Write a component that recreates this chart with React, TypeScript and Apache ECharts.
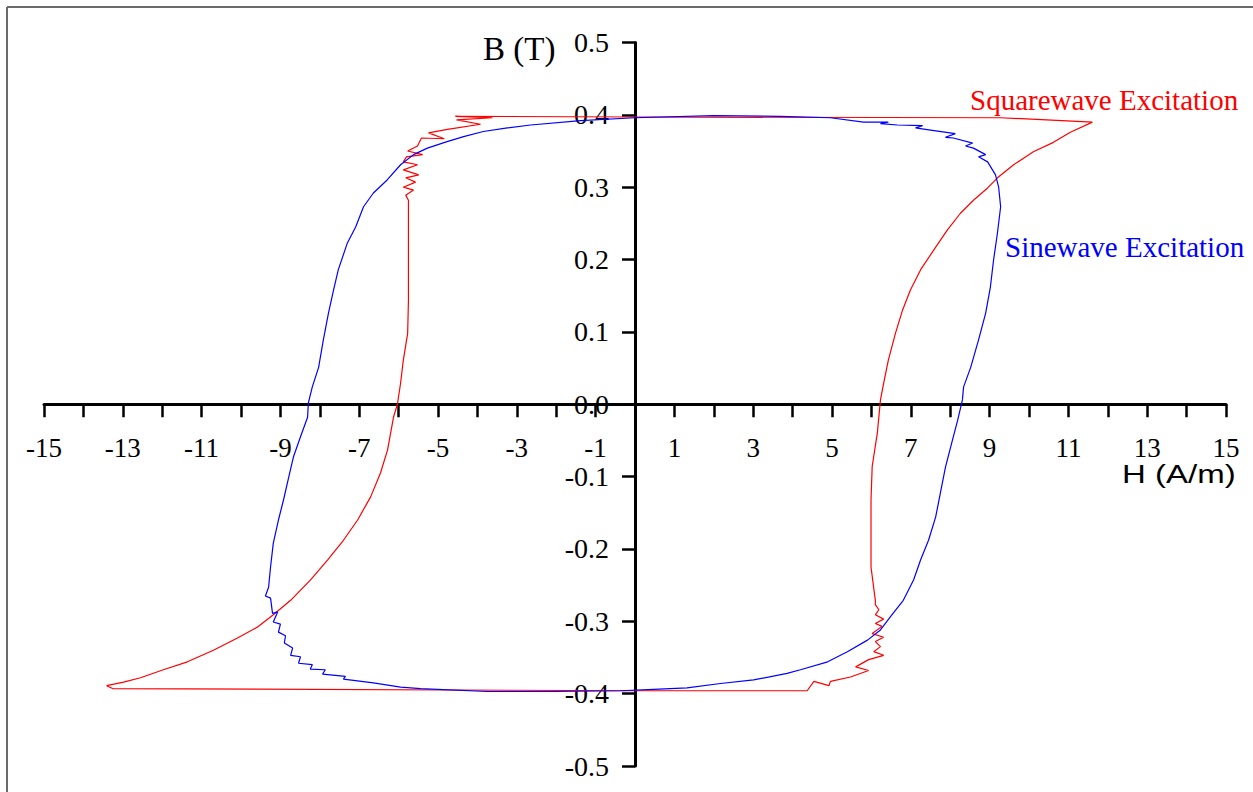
import React, { useEffect, useRef } from "react";
import * as echarts from "echarts";

// Squarewave excitation loop (H in A/m, B in T), traced in drawing order
const squareH = [
  11.61, 9.28, 0, -4.56, -3.62, -4.53, -3.92, -4.76, -5.24, -4.84, -5.42, -5.52, -5.77, -5.39, -5.8, -5.88,
  -5.52, -5.88, -5.49, -5.82, -5.57, -5.88, -5.62, -5.82, -5.75, -5.75, -5.75, -5.75, -5.77, -5.88, -5.95,
  -6.03, -6.13, -6.28, -6.46, -6.71, -7.04, -7.4, -7.8, -8.24, -8.74, -9.18, -9.58, -10.09, -10.7, -11.36,
  -11.97, -12.55, -12.98, -13.41, -13.26, 0, 4.37, 4.54, 4.92, 4.96, 5.47, 5.93, 5.6, 5.93, 6.31, 6.06, 6.23,
  6.1, 6.31, 6.02, 6.27, 6.1, 6.31, 6.1, 6.19, 6.1, 6.1, 5.99, 5.99, 5.99, 6.02, 6.15, 6.23, 6.31, 6.43, 6.61,
  6.79, 6.99, 7.25, 7.58, 7.93, 8.26, 8.59, 8.95, 9.2, 9.61, 10.11, 10.62, 11.05, 11.61,
];
const squareB = [
  0.39, 0.396, 0.397, 0.398, 0.396, 0.393, 0.387, 0.38, 0.375, 0.367, 0.368, 0.357, 0.35, 0.345, 0.342, 0.335,
  0.331, 0.324, 0.317, 0.313, 0.307, 0.3, 0.296, 0.289, 0.282, 0.237, 0.19, 0.144, 0.098, 0.061, 0.029,
  0.0, -0.018, -0.063, -0.095, -0.128, -0.16, -0.188, -0.215, -0.243, -0.271, -0.291, -0.308, -0.323, -0.34,
  -0.356, -0.367, -0.378, -0.384, -0.389, -0.393, -0.396, -0.396, -0.383, -0.389, -0.383, -0.377, -0.368,
  -0.363, -0.353, -0.347, -0.342, -0.335, -0.328, -0.322, -0.317, -0.307, -0.303, -0.297, -0.291, -0.284,
  -0.277, -0.271, -0.225, -0.178, -0.132, -0.086, -0.04, 0.006, 0.029, 0.061, 0.098, 0.13, 0.158, 0.186,
  0.213, 0.241, 0.264, 0.282, 0.299, 0.313, 0.331, 0.349, 0.362, 0.376, 0.39,
];

// Sinewave excitation loop
const sineH = [
  8.31, 8.34, 8.52, 8.72, 8.9, 9.02, 9.1, 9.2, 9.28, 9.23, 9.15,
  8.95, 8.72, 8.9, 8.59, 8.39, 8.57, 8.08, 7.88, 8.13, 7.5, 7.12, 7.3, 6.66, 6.23, 6.43, 5.8,
  4.96, 3.69, 1.99, 0, -1.38, -2.65, -3.24, -3.85, -4.35, -4.77, -5.27, -5.62, -5.95, -6.29, -6.64, -6.89,
  -7.09, -7.3, -7.53, -7.65, -7.78, -7.91, -8.03, -8.19, -8.29, -8.31, -8.49, -8.67, -8.79, -8.92, -9.05,
  -9.18, -9.25, -9.3,
  -9.38, -9.25, -9.2, -9.07, -9.18, -9.0, -9.05, -8.87, -8.9, -8.69, -8.74, -8.49, -8.54, -8.19, -8.24,
  -7.86, -7.93, -7.35, -7.4, -6.64,
  -5.95, -5.44, -3.75, -2.07, -0.37, 0.47, 1.32, 2.17, 3.01, 3.86, 4.2, 4.89, 5.39, 5.9, 6.23, 6.48, 6.81,
  7.07, 7.25, 7.45, 7.63, 7.75, 7.88, 8.06, 8.19, 8.31,
];
const sineB = [
  0.006, 0.024, 0.051, 0.089, 0.126, 0.162, 0.199, 0.237, 0.273, 0.3, 0.317,
  0.335, 0.342, 0.345, 0.354, 0.357, 0.361, 0.368, 0.369, 0.374, 0.379, 0.382, 0.385, 0.386, 0.388, 0.39,
  0.39,
  0.396, 0.398, 0.399, 0.396, 0.392, 0.386, 0.382, 0.377, 0.37, 0.363, 0.354, 0.345, 0.331, 0.31, 0.292,
  0.273, 0.245, 0.223, 0.186, 0.158, 0.126, 0.089, 0.051, 0.024, 0.002, -0.018, -0.045, -0.073, -0.101,
  -0.132, -0.16, -0.192, -0.225, -0.253,
  -0.265, -0.268, -0.289, -0.287, -0.301, -0.304, -0.315, -0.32, -0.33, -0.337, -0.347, -0.349, -0.358,
  -0.36, -0.366, -0.367, -0.373, -0.376, -0.38, -0.385,
  -0.391, -0.393, -0.397, -0.397, -0.396, -0.394, -0.392, -0.386, -0.381, -0.372, -0.367, -0.356, -0.342,
  -0.326, -0.312, -0.294, -0.271, -0.243, -0.215, -0.188, -0.156, -0.123, -0.087, -0.049, -0.022, 0.006,
];

const xLabelValues = [-15, -13, -11, -9, -7, -5, -3, -1, 1, 3, 5, 7, 9, 11, 13, 15];
const yLabelValues = [-0.5, -0.4, -0.3, -0.2, -0.1, 0, 0.1, 0.2, 0.3, 0.4, 0.5];

const seriesNames = ["Squarewave Excitation", "Sinewave Excitation"];
const axisNames = ["H (A/m)", "B (T)"];

const SERIF_NAME = "Liberation Serif";
const SERIF = "'Liberation Serif', 'Times New Roman', serif";
const SANS = "'Liberation Sans', Arial, sans-serif";

// layout of the plotting box (pixels)
const GRID_LEFT = 44;
const GRID_RIGHT = 27;
const GRID_TOP = 42.5;
const GRID_BOTTOM = 26;
const CHART_W = 1253;
const CHART_H = 792;

export default function App() {
  const ref = useRef<HTMLDivElement>(null);

  useEffect(() => {
    document.body.style.margin = "0";
    if (!ref.current) return;
    const chart = echarts.init(ref.current, null, { renderer: "svg" });

    const squareData = squareH.map((h, i) => [h, squareB[i]]);
    const sineData = sineH.map((h, i) => [h, sineB[i]]);

    const xMin = -15;
    const xMax = 15;
    const yMin = -0.5;
    const yMax = 0.5;
    const plotW = CHART_W - GRID_LEFT - GRID_RIGHT;
    const plotH = CHART_H - GRID_TOP - GRID_BOTTOM;
    // move the axes so that they cross at the origin
    const yAxisOffset = -((0 - xMin) / (xMax - xMin)) * plotW;
    const xAxisOffset = -((0 - yMin) / (yMax - yMin)) * plotH;

    chart.setOption({
      animation: false,
      backgroundColor: "#ffffff",
      grid: {
        left: GRID_LEFT,
        right: GRID_RIGHT,
        top: GRID_TOP,
        bottom: GRID_BOTTOM,
        containLabel: false,
        outerBoundsMode: "none",
      },
      xAxis: {
        type: "value",
        min: xMin,
        max: xMax,
        interval: 1,
        position: "bottom",
        offset: xAxisOffset,
        axisLine: { onZero: false, lineStyle: { color: "#000", width: 3 } },
        axisTick: { show: true, inside: false, length: 13, lineStyle: { color: "#000", width: 2.5 } },
        axisLabel: {
          show: true,
          showMinLabel: true,
          showMaxLabel: true,
          hideOverlap: false,
          margin: 30,
          color: "#000",
          fontFamily: SERIF_NAME,
          fontSize: 27,
          formatter: (v: number) => (xLabelValues.includes(Math.round(v)) ? String(Math.round(v)) : ""),
        },
        splitLine: { show: false },
      },
      yAxis: {
        type: "value",
        min: yMin,
        max: yMax,
        interval: 0.1,
        position: "left",
        offset: yAxisOffset,
        axisLine: { onZero: false, lineStyle: { color: "#000", width: 3 } },
        axisTick: { show: true, inside: false, length: 13, lineStyle: { color: "#000", width: 2.5 } },
        axisLabel: {
          show: true,
          showMinLabel: true,
          showMaxLabel: true,
          hideOverlap: false,
          margin: 26,
          color: "#000",
          fontFamily: SERIF_NAME,
          fontSize: 28,
          formatter: (v: number) => {
            const m = yLabelValues.find((t) => Math.abs(t - v) < 1e-6);
            return m === undefined ? "" : m.toFixed(1);
          },
        },
        splitLine: { show: false },
      },
      series: [
        {
          name: seriesNames[0],
          type: "line",
          data: squareData,
          showSymbol: false,
          symbol: "none",
          lineStyle: { color: "#ff0000", width: 1.2 },
          z: 2,
        },
        {
          name: seriesNames[1],
          type: "line",
          data: sineData,
          showSymbol: false,
          symbol: "none",
          lineStyle: { color: "#0000ff", width: 1.2 },
          z: 3,
        },
      ],
      graphic: [
        {
          type: "line",
          shape: { x1: 7, y1: 7, x2: 1253, y2: 7 },
          style: { stroke: "#6b6b6b", lineWidth: 2 },
          silent: true,
        },
        {
          type: "line",
          shape: { x1: 7, y1: 7, x2: 7, y2: 792 },
          style: { stroke: "#6b6b6b", lineWidth: 2 },
          silent: true,
        },
        {
          type: "text",
          x: 483,
          y: 49,
          style: {
            text: axisNames[1],
            fill: "#000",
            font: `33px ${SERIF}`,
            textAlign: "left",
            textVerticalAlign: "middle",
            align: "left",
            verticalAlign: "middle",
          },
        },
        {
          type: "text",
          x: 1122,
          y: 474,
          scaleX: 1.27,
          style: {
            text: axisNames[0],
            fill: "#000",
            font: `26px ${SANS}`,
            textAlign: "left",
            textVerticalAlign: "middle",
            align: "left",
            verticalAlign: "middle",
          },
        },
        {
          type: "text",
          x: 970,
          y: 100,
          style: {
            text: seriesNames[0],
            fill: "#ff0000",
            font: `29px ${SERIF}`,
            textAlign: "left",
            textVerticalAlign: "middle",
            align: "left",
            verticalAlign: "middle",
          },
        },
        {
          type: "text",
          x: 1005,
          y: 247,
          style: {
            text: seriesNames[1],
            fill: "#0000ff",
            font: `29px ${SERIF}`,
            textAlign: "left",
            textVerticalAlign: "middle",
            align: "left",
            verticalAlign: "middle",
          },
        },
      ],
    });

    return () => {
      chart.dispose();
    };
  }, []);

  return (
    <div
      ref={ref}
      style={{ position: "fixed", left: 0, top: 0, width: CHART_W, height: CHART_H, background: "#fff" }}
    />
  );
}
